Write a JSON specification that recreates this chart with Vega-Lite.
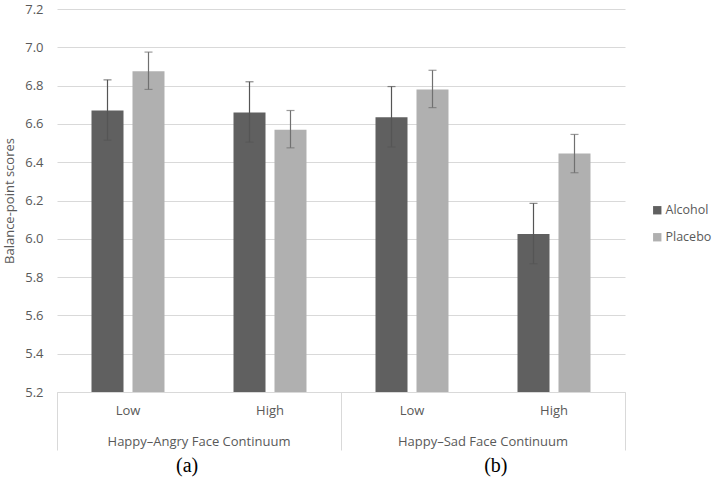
{
  "$schema": "https://vega.github.io/schema/vega-lite/v6.json",
  "width": 568,
  "height": 383,
  "autosize": {"type": "none"},
  "padding": {"left": 57, "top": 9, "right": 88, "bottom": 88},
  "background": "white",
  "config": {"view": {"stroke": null}, "font": "Open Sans"},
  "data": {"values": [
    {"cont": "Happy–Angry Face Continuum", "panel": "(a)", "cell": "HA|Low", "cond": "Alcohol", "mean": 6.67, "lo": 6.515, "hi": 6.83},
    {"cont": "Happy–Angry Face Continuum", "panel": "(a)", "cell": "HA|Low", "cond": "Placebo", "mean": 6.875, "lo": 6.78, "hi": 6.975},
    {"cont": "Happy–Angry Face Continuum", "panel": "(a)", "cell": "HA|High", "cond": "Alcohol", "mean": 6.66, "lo": 6.505, "hi": 6.82},
    {"cont": "Happy–Angry Face Continuum", "panel": "(a)", "cell": "HA|High", "cond": "Placebo", "mean": 6.57, "lo": 6.475, "hi": 6.67},
    {"cont": "Happy–Sad Face Continuum", "panel": "(b)", "cell": "HS|Low", "cond": "Alcohol", "mean": 6.635, "lo": 6.48, "hi": 6.795},
    {"cont": "Happy–Sad Face Continuum", "panel": "(b)", "cell": "HS|Low", "cond": "Placebo", "mean": 6.78, "lo": 6.685, "hi": 6.88},
    {"cont": "Happy–Sad Face Continuum", "panel": "(b)", "cell": "HS|High", "cond": "Alcohol", "mean": 6.025, "lo": 5.87, "hi": 6.185},
    {"cont": "Happy–Sad Face Continuum", "panel": "(b)", "cell": "HS|High", "cond": "Placebo", "mean": 6.445, "lo": 6.345, "hi": 6.545}
  ]},
  "layer": [
    {
      "encoding": {
        "x": {"field": "cell", "type": "nominal", "sort": ["HA|Low", "HA|High", "HS|Low", "HS|High"],
          "scale": {"paddingInner": 0, "paddingOuter": 0},
          "axis": {"orient": "bottom", "offset": 0, "title": null, "labelExpr": "split(datum.label, '|')[1]", "ticks": false, "domain": false, "grid": false, "labelAngle": 0, "labelPadding": 12, "labelFontSize": 13, "labelColor": "#595959"}},
        "xOffset": {"field": "cond", "type": "nominal", "sort": ["Alcohol", "Placebo"], "scale": {"paddingInner": 0.2195, "paddingOuter": 0.8415}}
      },
      "layer": [
        {
          "mark": {"type": "bar"},
          "encoding": {
            "y": {"field": "mean", "type": "quantitative", "scale": {"domain": [5.2, 7.2], "nice": false, "zero": false},
              "axis": {"title": "Balance-point scores", "values": [5.2, 5.4, 5.6, 5.8, 6.0, 6.2, 6.4, 6.6, 6.8, 7.0, 7.2], "tickCount": 11, "labelOverlap": false, "format": ".1f", "domain": false, "ticks": false, "gridColor": "#d9d9d9", "labelColor": "#595959", "labelFontSize": 13, "labelPadding": 14, "titleColor": "#595959", "titleFontSize": 13, "titleFontWeight": "normal", "titlePadding": 8}},
            "y2": {"datum": 5.2},
            "color": {"field": "cond", "type": "nominal", "scale": {"domain": ["Alcohol", "Placebo"], "range": ["#606060", "#b0b0b0"]},
              "legend": {"title": null, "orient": "none", "legendX": 594, "legendY": 195, "symbolType": "square", "symbolSize": 70, "symbolStrokeWidth": 0, "labelFontSize": 12.5, "labelColor": "#595959", "rowPadding": 14, "labelOffset": 2, "labelLimit": 0}}
          }
        },
        {
          "mark": {"type": "rule", "strokeWidth": 1.2},
          "encoding": {
            "y": {"field": "lo", "type": "quantitative"},
            "y2": {"field": "hi"},
            "color": {"condition": {"test": "datum.cond === 'Placebo'", "value": "#707070"}, "value": "#555555"}
          }
        },
        {
          "mark": {"type": "tick", "size": 8, "thickness": 1.2},
          "encoding": {
            "y": {"field": "hi", "type": "quantitative"},
            "color": {"condition": {"test": "datum.cond === 'Placebo'", "value": "#707070"}, "value": "#555555"}
          }
        },
        {
          "mark": {"type": "tick", "size": 8, "thickness": 1.2},
          "encoding": {
            "y": {"field": "lo", "type": "quantitative"},
            "color": {"condition": {"test": "datum.cond === 'Placebo'", "value": "#707070"}, "value": "#555555"}
          }
        }
      ]
    },
    {
      "mark": {"type": "rule", "opacity": 0},
      "encoding": {
        "x": {"field": "cont", "type": "nominal", "sort": ["Happy–Angry Face Continuum", "Happy–Sad Face Continuum"],
          "scale": {"type": "band", "paddingInner": 0, "paddingOuter": 0},
          "axis": {"orient": "bottom", "offset": 0, "title": null, "domain": true, "domainColor": "#d9d9d9", "ticks": true, "tickColor": "#d9d9d9", "tickSize": 58, "bandPosition": 1, "tickExtra": true, "grid": false, "labelAngle": 0, "labelFontSize": 13, "labelColor": "#595959", "labelPadding": -15, "labelLimit": 0}}
      }
    },
    {
      "mark": {"type": "rule", "opacity": 0},
      "encoding": {
        "x": {"field": "panel", "type": "nominal", "sort": ["(a)", "(b)"],
          "scale": {"type": "point", "padding": 0.42},
          "axis": {"orient": "bottom", "offset": 0, "title": null, "domain": false, "ticks": false, "grid": false, "labelAngle": 0, "labelFont": "Liberation Serif", "labelFontSize": 20, "labelColor": "#000000", "labelPadding": 63}}
      }
    }
  ],
  "resolve": {"scale": {"x": "independent"}, "axis": {"x": "independent"}}
}
